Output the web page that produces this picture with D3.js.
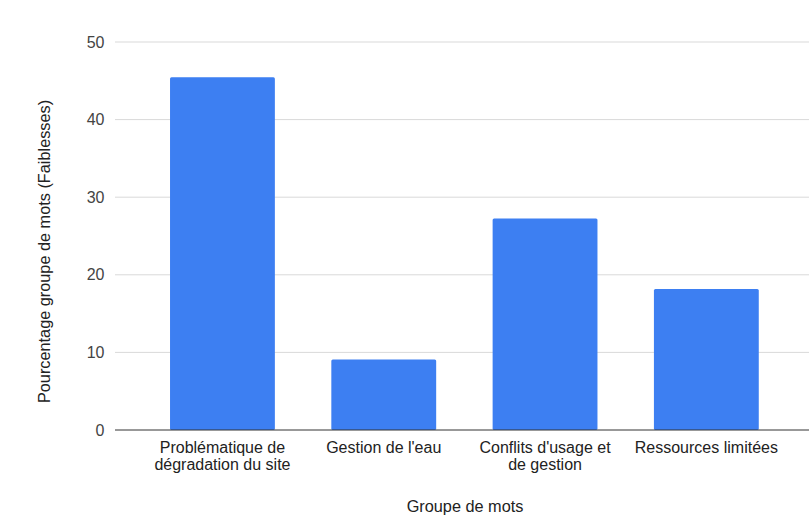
<!DOCTYPE html>
<html>
<head>
<meta charset="utf-8">
<script src="https://cdn.jsdelivr.net/npm/d3@7"></script>
<style>
  body { margin: 0; background: #fff; }
  svg { display: block; font-family: "Liberation Sans", Arial, sans-serif; }
</style>
</head>
<body>
<svg id="chart" width="809" height="517"></svg>
<script>
// Categories (each label split into lines) and their percentages
const categories = [
  ["Problématique de", "dégradation du site"],
  ["Gestion de l'eau"],
  ["Conflits d'usage et", "de gestion"],
  ["Ressources limitées"]
];
const values = [45.45, 9.09, 27.27, 18.18];
const yTicks = [0, 10, 20, 30, 40, 50];
const yTitle = "Pourcentage groupe de mots (Faiblesses)";
const xTitle = "Groupe de mots";

const svg = d3.select("#chart");
const gridLeft = 115, gridRight = 809;

const x = d3.scaleBand()
  .domain(d3.range(categories.length))
  .range([141.8, 787])
  .paddingInner(0.35)
  .paddingOuter(0.175);

const y = d3.scaleLinear().domain([0, 50]).range([430, 42]);

// Horizontal gridlines
svg.append("g").selectAll("line")
  .data(yTicks.filter(d => d !== 0))
  .join("line")
  .attr("x1", gridLeft).attr("x2", gridRight)
  .attr("y1", d => y(d)).attr("y2", d => y(d))
  .attr("stroke", "#d9d9d9").attr("stroke-width", 1);

// Y tick labels
svg.append("g").selectAll("text")
  .data(yTicks)
  .join("text")
  .attr("x", 104.5).attr("y", d => y(d))
  .attr("dy", "0.35em")
  .attr("text-anchor", "end")
  .attr("font-size", 16)
  .attr("fill", "#444")
  .text(d => d);

// Bars
svg.append("g").selectAll("rect")
  .data(values)
  .join("rect")
  .attr("x", (d, i) => x(i))
  .attr("width", x.bandwidth())
  .attr("y", d => y(d))
  .attr("height", d => y(0) - y(d))
  .attr("rx", 1.5)
  .attr("fill", "#3d7ff2");

// Baseline
svg.append("line")
  .attr("x1", gridLeft).attr("x2", gridRight)
  .attr("y1", y(0)).attr("y2", y(0))
  .attr("stroke", "#333").attr("stroke-width", 1);

// Category labels
const xl = svg.append("g").selectAll("text")
  .data(categories)
  .join("text")
  .attr("x", (d, i) => x(i) + x.bandwidth() / 2)
  .attr("y", 453)
  .attr("text-anchor", "middle")
  .attr("font-size", 16)
  .attr("fill", "#222");
xl.selectAll("tspan")
  .data(d => d)
  .join("tspan")
  .attr("x", function () { return d3.select(this.parentNode).attr("x"); })
  .attr("dy", (d, i) => i === 0 ? 0 : 16.5)
  .text(d => d);

// Axis titles
svg.append("text")
  .attr("x", 465).attr("y", 511.5)
  .attr("text-anchor", "middle")
  .attr("font-size", 16.3)
  .attr("fill", "#222")
  .text(xTitle);

svg.append("text")
  .attr("transform", "translate(49.5,251.5) rotate(-90)")
  .attr("text-anchor", "middle")
  .attr("font-size", 16.3)
  .attr("fill", "#222")
  .text(yTitle);
</script>
</body>
</html>
